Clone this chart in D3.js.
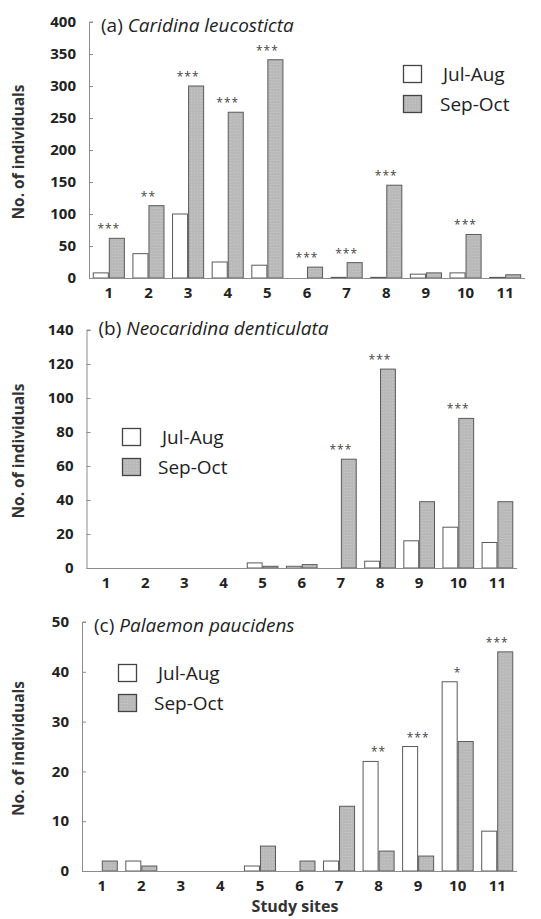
<!DOCTYPE html>
<html>
<head>
<meta charset="utf-8">
<script src="https://cdn.jsdelivr.net/npm/d3@7"></script>
<style>
  body { margin: 0; background: #fff; }
  text { font-family: 'Open Sans', Lato, sans-serif; }
</style>
</head>
<body>
<div id="chart"></div>
<script>
let sites = ['1', '2', '3', '4', '5', '6', '7', '8', '9', '10', '11']
let seasons = ['Jul-Aug', 'Sep-Oct']

// (a) Caridina leucosticta
let julAugA = [8, 38, 100, 25, 20, 0, 1, 1, 6, 8, 1]
let sepOctA = [62, 113, 300, 259, 341, 17, 24, 145, 8, 68, 5]
let sigA = ['***', '**', '***', '***', '***', '***', '***', '***', '', '***', '']
let ticksA = [0, 50, 100, 150, 200, 250, 300, 350, 400]

// (b) Neocaridina denticulata
let julAugB = [0, 0, 0, 0, 3, 1, 0, 4, 16, 24, 15]
let sepOctB = [0, 0, 0, 0, 1, 2, 64, 117, 39, 88, 39]
let sigB = ['', '', '', '', '', '', '***', '***', '', '***', '']
let ticksB = [0, 20, 40, 60, 80, 100, 120, 140]

// (c) Palaemon paucidens
let julAugC = [0, 2, 0, 0, 1, 0, 2, 22, 25, 38, 8]
let sepOctC = [2, 1, 0, 0, 5, 2, 13, 4, 3, 26, 44]
let sigC = ['', '', '', '', '', '', '', '**', '***', '*', '***']
let ticksC = [0, 10, 20, 30, 40, 50]

let width = 541
let height = 919
let fillWhite = '#ffffff'
let fillGray = '#b9b9b9'
let barStroke = '#5a5a5a'
let axisColor = '#8c8c8c'

let svg = d3.select('#chart').append('svg')
    .attr('width', width)
    .attr('height', height)

// stippled grey like the original
let defs = svg.append('defs')
let pat = defs.append('pattern')
    .attr('id', 'dots')
    .attr('width', 3)
    .attr('height', 3)
    .attr('patternUnits', 'userSpaceOnUse')
pat.append('rect').attr('width', 3).attr('height', 3).attr('fill', fillGray)
pat.append('rect').attr('x', 1).attr('y', 1).attr('width', 1).attr('height', 1).attr('fill', '#c8c8c8')

let panels = [
    { label: '(a) ', species: 'Caridina leucosticta', jul: julAugA, sep: sepOctA, sig: sigA, ticks: ticksA,
      x0: 89, x1: 525, yTop: 22, yBot: 278, titleY: 25,
      legendX: 403, legendY: 65, legendTextX: [443, 440] },
    { label: '(b) ', species: 'Neocaridina denticulata', jul: julAugB, sep: sepOctB, sig: sigB, ticks: ticksB,
      x0: 86.5, x1: 517, yTop: 330, yBot: 568, titleY: 328,
      legendX: 122, legendY: 428, legendTextX: [162, 158] },
    { label: '(c) ', species: 'Palaemon paucidens', jul: julAugC, sep: sepOctC, sig: sigC, ticks: ticksC,
      x0: 82, x1: 517, yTop: 622, yBot: 871, titleY: 625,
      legendX: 118, legendY: 664, legendTextX: [158, 154] }
]

panels.forEach(p => {
    let g = svg.append('g')

    let x = d3.scaleBand()
        .domain(sites)
        .range([p.x0, p.x1])
        .paddingInner(0.19)
        .paddingOuter(0.095)
    let inner = d3.scaleBand()
        .domain(seasons)
        .range([0, x.bandwidth()])
    let y = d3.scaleLinear()
        .domain([0, d3.max(p.ticks)])
        .range([p.yBot, p.yTop])

    // y axis
    let yAxis = g.append('g')
        .attr('transform', `translate(${p.x0},0)`)
        .call(d3.axisRight(y).tickValues(p.ticks).tickSize(4).tickFormat(''))
    yAxis.select('.domain').attr('stroke', axisColor).attr('d', `M4,${p.yTop}H0.5V${p.yBot}`)
    yAxis.selectAll('.tick line').attr('stroke', axisColor)

    g.selectAll('.ylab')
        .data(p.ticks)
        .join('text')
        .attr('x', p.x0 - 13)
        .attr('y', d => y(d))
        .attr('dy', '0.35em')
        .attr('text-anchor', 'end')
        .attr('font-size', 15)
        .attr('font-weight', 'bold')
        .attr('fill', '#222')
        .text(d => d)

    // bars
    let rows = sites.map((s, i) => ({ site: s, values: [p.jul[i], p.sep[i]], sig: p.sig[i] }))
    let group = g.selectAll('.site')
        .data(rows)
        .join('g')
        .attr('transform', d => `translate(${x(d.site)},0)`)

    group.selectAll('rect')
        .data(d => d.values.map((v, k) => ({ season: seasons[k], value: v })))
        .join('rect')
        .filter(d => d.value > 0)
        .attr('x', d => inner(d.season) + 0.5)
        .attr('width', inner.bandwidth() - 1)
        .attr('y', d => y(d.value))
        .attr('height', d => y(0) - y(d.value))
        .attr('fill', d => d.season === 'Jul-Aug' ? fillWhite : 'url(#dots)')
        .attr('stroke', barStroke)
        .attr('stroke-width', 1)

    // significance stars
    group.append('text')
        .attr('x', x.bandwidth() / 2)
        .attr('y', d => y(d3.max(d.values)) - 5)
        .attr('text-anchor', 'middle')
        .attr('font-size', 12)
        .attr('letter-spacing', 1)
        .attr('fill', '#444')
        .text(d => d.sig)

    // x axis
    g.append('line')
        .attr('x1', p.x0).attr('x2', p.x1)
        .attr('y1', p.yBot + 0.5).attr('y2', p.yBot + 0.5)
        .attr('stroke', axisColor)

    g.selectAll('.xlab')
        .data(sites)
        .join('text')
        .attr('x', d => x(d) + x.bandwidth() / 2)
        .attr('y', p.yBot + 15)
        .attr('dy', '0.35em')
        .attr('text-anchor', 'middle')
        .attr('font-size', 15)
        .attr('font-weight', 'bold')
        .attr('fill', '#222')
        .text(d => d)

    // title
    let title = g.append('text')
        .attr('x', p.x0 + 12)
        .attr('y', p.titleY)
        .attr('dy', '0.35em')
        .attr('font-size', 19)
        .attr('fill', '#222')
    title.append('tspan').text(p.label)
    title.append('tspan').attr('font-style', 'italic').text(p.species)

    // y label
    g.append('text')
        .attr('transform', `translate(19,${(p.yTop + p.yBot) / 2 + 2}) rotate(-90)`)
        .attr('dy', '0.35em')
        .attr('text-anchor', 'middle')
        .attr('font-size', 15.5)
        .attr('font-weight', 'bold')
        .attr('fill', '#333')
        .text('No. of individuals')

    // legend
    seasons.forEach((s, k) => {
        let ly = p.legendY + k * 30
        g.append('rect')
            .attr('x', p.legendX + 0.5)
            .attr('y', ly + 0.5)
            .attr('width', 18)
            .attr('height', 17)
            .attr('fill', k === 0 ? fillWhite : 'url(#dots)')
            .attr('stroke', '#444')
            .attr('stroke-width', 1.3)
        g.append('text')
            .attr('x', p.legendTextX[k])
            .attr('y', ly + 9)
            .attr('dy', '0.35em')
            .attr('font-size', 19)
            .attr('fill', '#222')
            .text(s)
    })
})

svg.append('text')
    .attr('x', 295)
    .attr('y', 906)
    .attr('dy', '0.35em')
    .attr('text-anchor', 'middle')
    .attr('font-size', 16)
    .attr('font-weight', 'bold')
    .attr('fill', '#333')
    .text('Study sites')
</script>
</body>
</html>
